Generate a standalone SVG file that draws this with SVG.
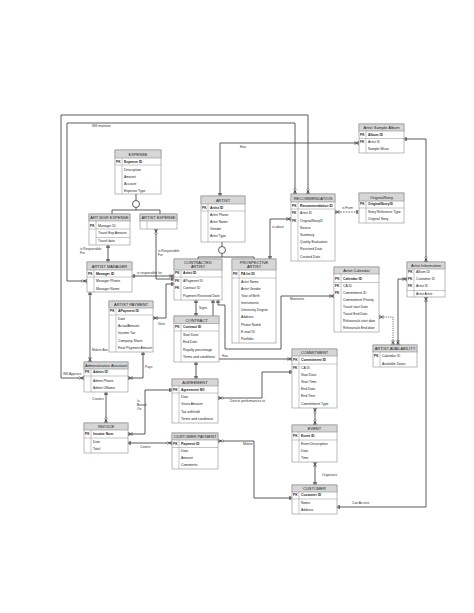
<svg xmlns="http://www.w3.org/2000/svg" width="474" height="613" viewBox="0 0 474 613">
<style>
.box{fill:#fff;stroke:#8c8c8c;stroke-width:0.6}
.hd{fill:#d6d6d6;stroke:#8c8c8c;stroke-width:0.6}
.ln{stroke:#8c8c8c;stroke-width:0.5}
text{font-family:"Liberation Sans",Arial,sans-serif;fill:#222}
.h{font-size:4px;text-anchor:middle}
.t{font-size:3.4px}
.b{font-weight:bold}
.k{font-size:3.2px;font-weight:bold}
.lbl{font-size:3.3px;fill:#333}
.c{fill:none;stroke:#333;stroke-width:0.8}
.dash{stroke-dasharray:1.5 1.2}
.dot{stroke-dasharray:0.8 1}
.mk{fill:none;stroke:#333;stroke-width:1.2}
</style>
<defs>
<marker id="one" viewBox="0 0 12 10" refX="12" refY="5" markerWidth="6" markerHeight="5" markerUnits="userSpaceOnUse" orient="auto-start-reverse"><path class="mk" d="M7,1V9M9.5,1V9"/></marker>
<marker id="many" viewBox="0 0 12 10" refX="12" refY="5" markerWidth="6" markerHeight="5" markerUnits="userSpaceOnUse" orient="auto-start-reverse"><path class="mk" d="M12,1L6,5L12,9M6,5H12M4,1V9"/></marker>
<marker id="zmany" viewBox="0 0 12 10" refX="12" refY="5" markerWidth="6" markerHeight="5" markerUnits="userSpaceOnUse" orient="auto-start-reverse"><path class="mk" d="M12,1L6,5L12,9M6,5H12"/><circle cx="3.2" cy="5" r="2.2" fill="#fff" stroke="#333" stroke-width="1.1"/></marker>
</defs>
<rect width="474" height="613" fill="#fff"/>

<g id="connectors">
<path class="c" d="M84,378H61V115H308V194" marker-start="url(#zmany)" marker-end="url(#zmany)"/>
<path class="c" d="M87,281H67V123H295V194" marker-start="url(#zmany)" marker-end="url(#zmany)"/>
<path class="c" d="M220,196V143H359" marker-start="url(#one)" marker-end="url(#many)"/>
<path class="c" d="M404,139H426V262" marker-start="url(#one)" marker-end="url(#zmany)"/>
<path class="c" d="M337,507H426V297" marker-start="url(#one)" marker-end="url(#many)"/>
<path class="c dash" d="M335,212H359" marker-start="url(#many)" marker-end="url(#one)"/>
<path class="c" d="M291,219H270V259" marker-start="url(#many)" marker-end="url(#one)"/>
<path class="c" d="M136,194V200.5M136,207.5V210M112,210H160M112,210V214M160,210V214"/>
<circle cx="136" cy="204" r="3.5" fill="#fff" stroke="#333" stroke-width="0.8"/>
<path class="c" d="M222,242V246.5M222,253.5V257M198,257H254M198,257V259M254,257V259"/>
<circle cx="222" cy="250" r="3.5" fill="#fff" stroke="#333" stroke-width="0.8"/>
<path class="c" d="M108,245V262" marker-start="url(#one)" marker-end="url(#one)"/>
<path class="c" d="M156,229V279H174" marker-start="url(#zmany)" marker-end="url(#one)"/>
<path class="c" d="M132,276H174" marker-start="url(#one)" marker-end="url(#many)"/>
<path class="c" d="M90,292V362" marker-start="url(#one)" marker-end="url(#many)"/>
<path class="c" d="M153,318H166V284H174" marker-start="url(#many)" marker-end="url(#one)"/>
<path class="c" d="M143,352V378H128" marker-start="url(#one)" marker-end="url(#many)"/>
<path class="c" d="M106,392V423" marker-start="url(#one)" marker-end="url(#zmany)"/>
<path class="c" d="M128,434H145V390H172" marker-start="url(#many)" marker-end="url(#one)"/>
<path class="c" d="M128,443H172" marker-start="url(#one)" marker-end="url(#zmany)"/>
<path class="c" d="M196,300V316" marker-start="url(#one)" marker-end="url(#one)"/>
<path class="c" d="M196,362V379" marker-start="url(#one)" marker-end="url(#one)"/>
<path class="c" d="M218,300V305H225V349H281V296H334" marker-start="url(#one)" marker-end="url(#many)"/>
<path class="c" d="M213,300V359H292" marker-start="url(#one)" marker-end="url(#many)"/>
<path class="c" d="M218,398H262V372H292" marker-start="url(#zmany)" marker-end="url(#one)"/>
<path class="c" d="M315,408V425" marker-start="url(#zmany)" marker-end="url(#zmany)"/>
<path class="c" d="M315,462V485" marker-start="url(#many)" marker-end="url(#one)"/>
<path class="c" d="M218,441H254V498H292" marker-start="url(#zmany)" marker-end="url(#one)"/>
<path class="c" d="M407,279H398V345" marker-start="url(#many)" marker-end="url(#many)"/>
<path class="c dot" d="M379,317H393V345" marker-start="url(#many)" marker-end="url(#many)"/>
<text class="lbl" x="63" y="375">Will Approve</text>
<text class="lbl" x="92" y="127">Will maintain</text>
<text class="lbl" x="240" y="148">Has</text>
<text class="lbl" x="352" y="504">Can Access</text>
<text class="lbl" x="342" y="209">is From</text>
<text class="lbl" x="272" y="228">is about</text>
<text class="lbl" x="80" y="250">is Responsible</text>
<text class="lbl" x="80" y="254">For</text>
<text class="lbl" x="158" y="252">is Responsible</text>
<text class="lbl" x="158" y="256">For</text>
<text class="lbl" x="137" y="274">is responsible for</text>
<text class="lbl" x="92" y="351">Makes Ass</text>
<text class="lbl" x="158" y="325">Gets</text>
<text class="lbl" x="145" y="368">Pays</text>
<text class="lbl" x="92" y="400">Creates</text>
<text class="lbl" x="137" y="402">Is</text>
<text class="lbl" x="137" y="406">Based</text>
<text class="lbl" x="137" y="410">On</text>
<text class="lbl" x="140" y="448">Covers</text>
<text class="lbl" x="199" y="309">Signs</text>
<text class="lbl" x="290" y="300">Maintains</text>
<text class="lbl" x="222" y="357">Has</text>
<text class="lbl" x="230" y="402">Directs performances at</text>
<text class="lbl" x="322" y="476">Organizes</text>
<text class="lbl" x="243" y="445">Makes</text>
</g>

<g id="expense">
<rect class="box" x="115" y="150" width="46" height="44"/><rect class="hd" x="115" y="150" width="46" height="8"/>
<text class="h" x="138" y="155.5">EXPENSE</text>
<line class="ln" x1="122" y1="158" x2="122" y2="194"/><line class="ln" x1="115" y1="165" x2="161" y2="165"/>
<text class="k" x="116" y="163">PK</text><text class="t b" x="124" y="163">Expense ID</text>
<text class="t" x="124" y="170.5">Description</text><text class="t" x="124" y="177.5">Amount</text>
<text class="t" x="124" y="184.5">Account</text><text class="t" x="124" y="191.5">Expense Type</text>
</g>

<g id="art-mgr-expense">
<rect class="box" x="89" y="214" width="41" height="31"/><rect class="hd" x="89" y="214" width="41" height="7"/>
<text class="h" x="109.5" y="219">ART MGR EXPENSE</text>
<line class="ln" x1="96" y1="221" x2="96" y2="245"/><line class="ln" x1="89" y1="229" x2="130" y2="229"/><line class="ln" x1="96" y1="237.5" x2="130" y2="237.5"/>
<text class="k" x="90" y="226.5">PK</text><text class="t" x="98" y="226.5">Manager ID</text>
<text class="t" x="98" y="234">Travel Exp Amount</text><text class="t" x="98" y="242">Travel date</text>
</g>

<g id="artist-expense">
<rect class="box" x="140" y="214" width="37" height="15"/><rect class="hd" x="140" y="214" width="37" height="7"/>
<text class="h" x="158.5" y="219">ARTIST EXPENSE</text>
<line class="ln" x1="147" y1="221" x2="147" y2="229"/>
</g>

<g id="artist-manager">
<rect class="box" x="87" y="262" width="45" height="30"/><rect class="hd" x="87" y="262" width="45" height="8"/>
<text class="h" x="109.5" y="267.5">ARTIST MANAGER</text>
<line class="ln" x1="94" y1="270" x2="94" y2="292"/><line class="ln" x1="87" y1="277" x2="132" y2="277"/>
<text class="k" x="88" y="274.5">PK</text><text class="t b" x="96" y="274.5">Manager ID</text>
<text class="t" x="96" y="282">Manager Phone</text><text class="t" x="96" y="289.5">Manager Name</text>
</g>

<g id="artist">
<rect class="box" x="201" y="196" width="44" height="46"/><rect class="hd" x="201" y="196" width="44" height="8"/>
<text class="h" x="223" y="201.5">ARTIST</text>
<line class="ln" x1="208" y1="204" x2="208" y2="242"/><line class="ln" x1="201" y1="211" x2="245" y2="211"/>
<text class="k" x="202" y="208.5">PK</text><text class="t b" x="210" y="208.5">Artist ID</text>
<text class="t" x="210" y="216">Artist Phone</text><text class="t" x="210" y="223">Artist Name</text>
<text class="t" x="210" y="230">Gender</text><text class="t" x="210" y="237">Artist Type</text>
</g>

<g id="recommendation">
<rect class="box" x="291" y="194" width="44" height="67"/><rect class="hd" x="291" y="194" width="44" height="8"/>
<text class="h" x="313" y="199.5">RECOMMENDATION</text>
<line class="ln" x1="298" y1="202" x2="298" y2="261"/><line class="ln" x1="291" y1="209" x2="335" y2="209"/>
<text class="k" x="292" y="206.5">PK</text><text class="t b" x="300" y="206.5">Recommendation ID</text>
<text class="k" x="292" y="214">FK</text><text class="t" x="300" y="214">Artist ID</text>
<text class="k" x="292" y="221.5">FK</text><text class="t" x="300" y="221.5">OriginalStoryID</text>
<text class="t" x="300" y="228.5">Source</text><text class="t" x="300" y="235.5">Summary</text>
<text class="t" x="300" y="243">Quality Evaluation</text><text class="t" x="300" y="250">Received Date</text>
<text class="t" x="300" y="257.5">Created Date</text>
</g>

<g id="artist-sample-album">
<rect class="box" x="359" y="124" width="45" height="29"/><rect class="hd" x="359" y="124" width="45" height="7"/>
<text class="h" x="381.5" y="129">Artist Sample Album</text>
<line class="ln" x1="366" y1="131" x2="366" y2="153"/><line class="ln" x1="359" y1="138.5" x2="404" y2="138.5"/>
<text class="k" x="360" y="135.5">PK</text><text class="t b" x="368" y="135.5">Album ID</text>
<text class="k" x="360" y="143">FK</text><text class="t" x="368" y="143">Artist ID</text>
<text class="t" x="368" y="150">Sample Music</text>
</g>

<g id="original-story">
<rect class="box" x="359" y="193" width="45" height="30"/><rect class="hd" x="359" y="193" width="45" height="8"/>
<text class="h" x="381.5" y="198.5">OriginalStory</text>
<line class="ln" x1="366" y1="201" x2="366" y2="223"/><line class="ln" x1="359" y1="208" x2="404" y2="208"/>
<text class="k" x="360" y="205">PK</text><text class="t b" x="368" y="205">OriginalStoryID</text>
<text class="t" x="368" y="213">Story Reference Type</text><text class="t" x="368" y="220">Original Story</text>
</g>

<g id="contracted-artist">
<rect class="box" x="174" y="259" width="48" height="41"/><rect class="hd" x="174" y="259" width="48" height="11"/>
<text class="h" x="198" y="263.5">CONTRACTED</text><text class="h" x="198" y="268">ARTIST</text>
<line class="ln" x1="181" y1="270" x2="181" y2="300"/><line class="ln" x1="174" y1="277" x2="222" y2="277"/>
<text class="k" x="175" y="274">PK</text><text class="t b" x="183" y="274">Artist ID</text>
<text class="k" x="175" y="282">FK</text><text class="t" x="183" y="282">APayment ID</text>
<text class="k" x="175" y="289">FK</text><text class="t" x="183" y="289">Contract ID</text>
<text class="t" x="183" y="296.5">Payment Received Date</text>
</g>

<g id="prospective-artist">
<rect class="box" x="232" y="259" width="44" height="84"/><rect class="hd" x="232" y="259" width="44" height="11"/>
<text class="h" x="254" y="263.5">PROSPECTIVE</text><text class="h" x="254" y="268">ARTIST</text>
<line class="ln" x1="239" y1="270" x2="239" y2="343"/><line class="ln" x1="232" y1="278" x2="276" y2="278"/>
<text class="k" x="233" y="275">PK</text><text class="t b" x="241" y="275">PA Int ID</text>
<text class="t" x="241" y="282.5">Artist Name</text><text class="t" x="241" y="289.5">Artist Gender</text>
<text class="t" x="241" y="297">Year of Birth</text><text class="t" x="241" y="304">Instruments</text>
<text class="t" x="241" y="311">University Degree</text><text class="t" x="241" y="318">Address</text>
<text class="t" x="241" y="325.5">Phone Numb</text><text class="t" x="241" y="333">E-mail ID</text>
<text class="t" x="241" y="340">Portfolio</text>
</g>

<g id="artist-payment">
<rect class="box" x="109" y="301" width="44" height="51"/><rect class="hd" x="109" y="301" width="44" height="7"/>
<text class="h" x="131" y="306">ARTIST PAYMENT</text>
<line class="ln" x1="116" y1="308" x2="116" y2="352"/><line class="ln" x1="109" y1="315" x2="153" y2="315"/>
<text class="k" x="110" y="312">PK</text><text class="t b" x="118" y="312">APayment ID</text>
<text class="t" x="118" y="320">Date</text><text class="t" x="118" y="327">ActualAmount</text>
<text class="t" x="118" y="334">Income Tax</text><text class="t" x="118" y="341.5">Company Share</text>
<text class="t" x="118" y="349">Final Payment Amount</text>
</g>

<g id="contract">
<rect class="box" x="174" y="316" width="45" height="46"/><rect class="hd" x="174" y="316" width="45" height="7.5"/>
<text class="h" x="196.5" y="321.5">CONTRACT</text>
<line class="ln" x1="181" y1="323.5" x2="181" y2="362"/><line class="ln" x1="174" y1="331" x2="219" y2="331"/>
<text class="k" x="175" y="328">PK</text><text class="t b" x="183" y="328">Contract ID</text>
<text class="t" x="183" y="335.5">Start Date</text><text class="t" x="183" y="343">End Date</text>
<text class="t" x="183" y="350.5">Royalty percentage</text><text class="t" x="183" y="358">Terms and conditions</text>
</g>

<g id="administrative-assistant">
<rect class="box" x="84" y="362" width="44" height="30"/><rect class="hd" x="84" y="362" width="44" height="7"/>
<text class="h" x="106" y="367">Administrative Assistant</text>
<line class="ln" x1="91" y1="369" x2="91" y2="392"/><line class="ln" x1="84" y1="376" x2="128" y2="376"/>
<text class="k" x="85" y="373">PK</text><text class="t b" x="93" y="373">Admin ID</text>
<text class="t" x="93" y="381.5">Admin Phone</text><text class="t" x="93" y="389">Admin UName</text>
</g>

<g id="agreement">
<rect class="box" x="172" y="379" width="46" height="44"/><rect class="hd" x="172" y="379" width="46" height="7"/>
<text class="h" x="195" y="384">AGREEMENT</text>
<line class="ln" x1="179" y1="386" x2="179" y2="423"/><line class="ln" x1="172" y1="393" x2="218" y2="393"/>
<text class="k" x="173" y="390.5">PK</text><text class="t b" x="181" y="390.5">Agreement NO</text>
<text class="t" x="181" y="398">Date</text><text class="t" x="181" y="405">Gross Amount</text>
<text class="t" x="181" y="412.5">Tax withheld</text><text class="t" x="181" y="420">Terms and conditions</text>
</g>

<g id="commitment">
<rect class="box" x="292" y="349" width="45" height="59"/><rect class="hd" x="292" y="349" width="45" height="7"/>
<text class="h" x="314.5" y="354">COMMITMENT</text>
<line class="ln" x1="299" y1="356" x2="299" y2="408"/><line class="ln" x1="292" y1="364" x2="337" y2="364"/>
<text class="k" x="293" y="361">PK</text><text class="t b" x="301" y="361">Commitment ID</text>
<text class="k" x="293" y="368.5">FK</text><text class="t" x="301" y="368.5">CA ID</text>
<text class="t" x="301" y="375.5">Start Date</text><text class="t" x="301" y="382.5">Start Time</text>
<text class="t" x="301" y="390">End Date</text><text class="t" x="301" y="397">End Time</text>
<text class="t" x="301" y="404.5">Commitment Type</text>
</g>

<g id="event">
<rect class="box" x="292" y="425" width="45" height="37"/><rect class="hd" x="292" y="425" width="45" height="7"/>
<text class="h" x="314.5" y="430">EVENT</text>
<line class="ln" x1="299" y1="432" x2="299" y2="462"/><line class="ln" x1="292" y1="440" x2="337" y2="440"/>
<text class="k" x="293" y="437">PK</text><text class="t b" x="301" y="437">Event ID</text>
<text class="t" x="301" y="444.5">Event Description</text><text class="t" x="301" y="451.5">Date</text>
<text class="t" x="301" y="458.5">Time</text>
</g>

<g id="customer">
<rect class="box" x="292" y="485" width="45" height="29"/><rect class="hd" x="292" y="485" width="45" height="7"/>
<text class="h" x="314.5" y="490">CUSTOMER</text>
<line class="ln" x1="299" y1="492" x2="299" y2="514"/><line class="ln" x1="292" y1="499" x2="337" y2="499"/>
<text class="k" x="293" y="496">PK</text><text class="t b" x="301" y="496">Customer ID</text>
<text class="t" x="301" y="503.5">Name</text><text class="t" x="301" y="511">Address</text>
</g>

<g id="customer-payment">
<rect class="box" x="172" y="433" width="46" height="36"/><rect class="hd" x="172" y="433" width="46" height="7"/>
<text class="h" x="195" y="438">CUSTOMER PAYMENT</text>
<line class="ln" x1="179" y1="440" x2="179" y2="469"/><line class="ln" x1="172" y1="447.5" x2="218" y2="447.5"/>
<text class="k" x="173" y="444.5">PK</text><text class="t b" x="181" y="444.5">Payment ID</text>
<text class="t" x="181" y="451.5">Date</text><text class="t" x="181" y="458.5">Amount</text>
<text class="t" x="181" y="465.5">Comments</text>
</g>

<g id="invoice">
<rect class="box" x="84" y="423" width="44" height="30"/><rect class="hd" x="84" y="423" width="44" height="7"/>
<text class="h" x="106" y="428">INVOICE</text>
<line class="ln" x1="91" y1="430" x2="91" y2="453"/><line class="ln" x1="84" y1="438" x2="128" y2="438"/>
<text class="k" x="85" y="435">PK</text><text class="t b" x="93" y="435">Invoice Num</text>
<text class="t" x="93" y="442.5">Date</text><text class="t" x="93" y="449.5">Total</text>
</g>

<g id="artist-calendar">
<rect class="box" x="334" y="267" width="45" height="65"/><rect class="hd" x="334" y="267" width="45" height="7"/>
<text class="h" x="356.5" y="272">Artist Calendar</text>
<line class="ln" x1="341" y1="274" x2="341" y2="332"/><line class="ln" x1="334" y1="282.5" x2="379" y2="282.5"/>
<text class="k" x="335" y="279.5">PK</text><text class="t b" x="343" y="279.5">Calendar ID</text>
<text class="k" x="335" y="287">FK</text><text class="t" x="343" y="287">CA ID</text>
<text class="k" x="335" y="294">FK</text><text class="t" x="343" y="294">Commitment ID</text>
<text class="t" x="343" y="301">Commitment Priority</text><text class="t" x="343" y="308">Travel start Date</text>
<text class="t" x="343" y="315">Travel End Date</text><text class="t" x="343" y="322">Rehearsals start date</text>
<text class="t" x="343" y="329">Rehearsals End date</text>
</g>

<g id="artist-information">
<rect class="box" x="407" y="262" width="38" height="35"/><rect class="hd" x="407" y="262" width="38" height="7"/>
<text class="h" x="426" y="267">Artist Information</text>
<line class="ln" x1="414" y1="269" x2="414" y2="297"/><line class="ln" x1="407" y1="290.5" x2="445" y2="290.5"/>
<text class="k" x="408" y="273">PK</text><text class="t" x="416" y="273">Album ID</text>
<text class="k" x="408" y="280">FK</text><text class="t" x="416" y="280">Customer ID</text>
<text class="k" x="408" y="287">FK</text><text class="t" x="416" y="287">Artist ID</text>
<text class="t" x="416" y="294.5">Artist Artist</text>
</g>

<g id="artist-availability">
<rect class="box" x="373" y="345" width="44" height="22"/><rect class="hd" x="373" y="345" width="44" height="7"/>
<text class="h" x="395" y="350">ARTIST AVAILABILITY</text>
<line class="ln" x1="380" y1="352" x2="380" y2="367"/>
<text class="k" x="374" y="357">PK</text><text class="t" x="382" y="357">Calendar ID</text>
<text class="t" x="382" y="364.5">Available Dates</text>
</g>
</svg>
